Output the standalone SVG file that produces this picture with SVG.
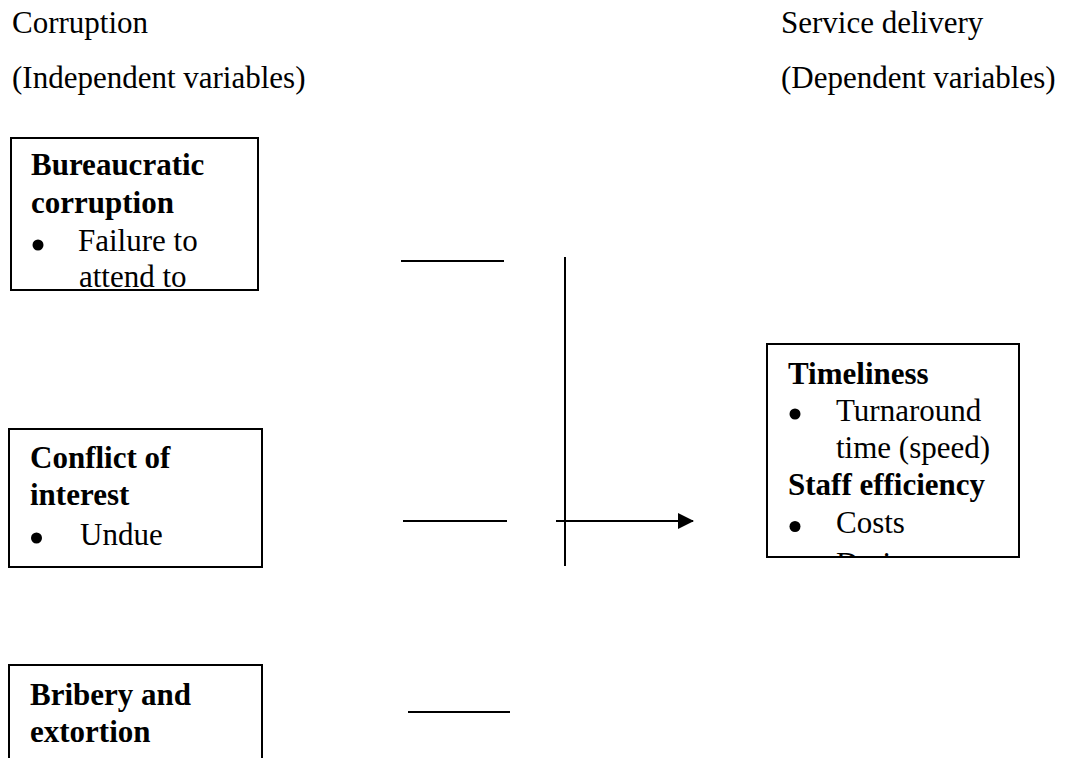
<svg xmlns="http://www.w3.org/2000/svg" width="1069" height="758" viewBox="0 0 1069 758">
<style>
text{font-family:"Liberation Serif","Times New Roman",serif;font-size:31px;fill:#000}
.b{font-weight:bold}
.box{fill:#fff;stroke:#000;stroke-width:2}
.ln{stroke:#000;stroke-width:2;fill:none}
.dot{fill:#000}
</style>
<defs>
<marker id="ah" markerWidth="16" markerHeight="16" refX="15" refY="8" orient="auto" markerUnits="userSpaceOnUse">
<path d="M0,0 L16,8 L0,16 Z" fill="#000"/>
</marker>
<clipPath id="c4"><rect x="767" y="345" width="252" height="211"/></clipPath>
</defs>
<rect width="1069" height="758" fill="#fff"/>
<g id="headers">
<text x="12" y="33">Corruption</text>
<text x="12" y="88">(Independent variables)</text>
<text x="781" y="33">Service delivery</text>
<text x="781" y="88">(Dependent variables)</text>
</g>
<g id="node-bureaucratic">
<rect class="box" x="11" y="138" width="247" height="152"/>
<text class="b" x="31" y="175">Bureaucratic</text>
<text class="b" x="31" y="213">corruption</text>
<circle class="dot" cx="38" cy="245" r="5.5"/>
<text x="78" y="251">Failure to</text>
<text x="79" y="287">attend to</text>
</g>
<g id="node-conflict">
<rect class="box" x="9" y="429" width="253" height="138"/>
<text class="b" x="30" y="468">Conflict of</text>
<text class="b" x="30" y="505">interest</text>
<circle class="dot" cx="36.5" cy="538" r="5.5"/>
<text x="80" y="545">Undue</text>
</g>
<g id="node-bribery">
<rect class="box" x="9" y="665" width="253" height="110"/>
<text class="b" x="30" y="705">Bribery and</text>
<text class="b" x="30" y="742">extortion</text>
</g>
<g id="node-timeliness">
<rect class="box" x="767" y="344" width="252" height="213"/>
<g clip-path="url(#c4)">
<text class="b" x="788" y="384">Timeliness</text>
<circle class="dot" cx="795" cy="414" r="5.5"/>
<text x="836" y="421">Turnaround</text>
<text x="836" y="458">time (speed)</text>
<text class="b" x="788" y="495">Staff efficiency</text>
<circle class="dot" cx="795" cy="526.5" r="5.5"/>
<text x="836" y="533">Costs</text>
<text x="836" y="574">Duties</text>
</g>
</g>
<g id="connectors">
<line class="ln" x1="401" y1="261" x2="504" y2="261"/>
<line class="ln" x1="403" y1="521" x2="507" y2="521"/>
<line class="ln" x1="408" y1="712" x2="510" y2="712"/>
<line class="ln" x1="565" y1="257" x2="565" y2="566"/>
<line class="ln" x1="556" y1="521" x2="693" y2="521" marker-end="url(#ah)"/>
</g>
</svg>
